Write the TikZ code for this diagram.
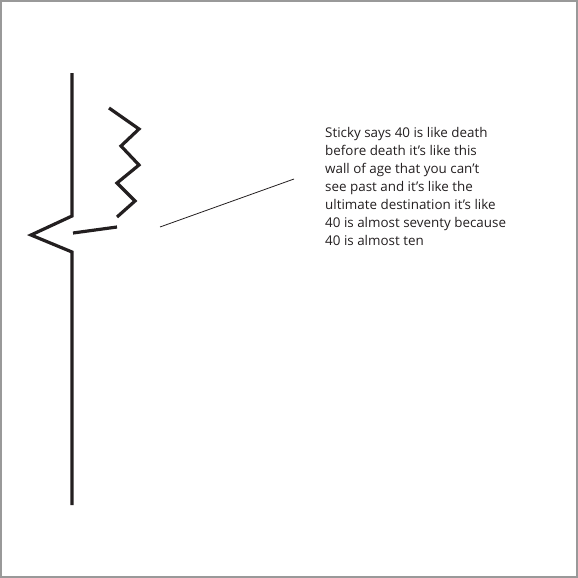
\documentclass[tikz,border=0pt]{standalone}
\usepackage{fontspec}
\setmainfont{Open Sans}
\usetikzlibrary{positioning}
\definecolor{inkblack}{HTML}{231F20}
\definecolor{framegray}{HTML}{999999}

\begin{document}
\begin{tikzpicture}[x=1pt, y=-1pt,
    stroke/.style={inkblack, line width=3.2pt, line join=miter},
    pointer/.style={inkblack, line width=0.8pt}]
        % frame
        \draw[framegray, line width=1.8pt] (0.9,0.9) rectangle (577.1,577.1);
        \useasboundingbox (0,0) rectangle (578,578);
        % wall with the notch
        \coordinate (walltop) at (72,73);
        \coordinate (notchin) at (72,216);
        \coordinate (notchtip) at (31,235);
        \coordinate (notchout) at (72,252);
        \coordinate (wallfoot) at (72,505);
        \draw[stroke] (walltop) -- (notchin) -- (notchtip) -- (notchout) -- (wallfoot);
        % crack
        \draw[stroke] (73,233) -- (117,227);
        \draw[stroke] (109,108) -- (139,129) -- (121,146) -- (139,165)
          -- (117,183) -- (135,201) -- (117,217);
        % quote
        \node[anchor=north west, align=left, inner sep=0pt, font=\fontsize{13.4}{18}\selectfont,
          text=inkblack] (quote) at (325,126.8)
          {Sticky says 40 is like death\\
           before death it’s like this\\
           wall of age that you can’t\\
           see past and it’s like the\\
           ultimate destination it’s like\\
           40 is almost seventy because\\
           40 is almost ten};
        \coordinate (pointerend) at (160,227);
        \coordinate (pointerstart) at (294,179);
        \draw[pointer] (pointerend) -- (pointerstart);
      \end{tikzpicture}
\end{document}
